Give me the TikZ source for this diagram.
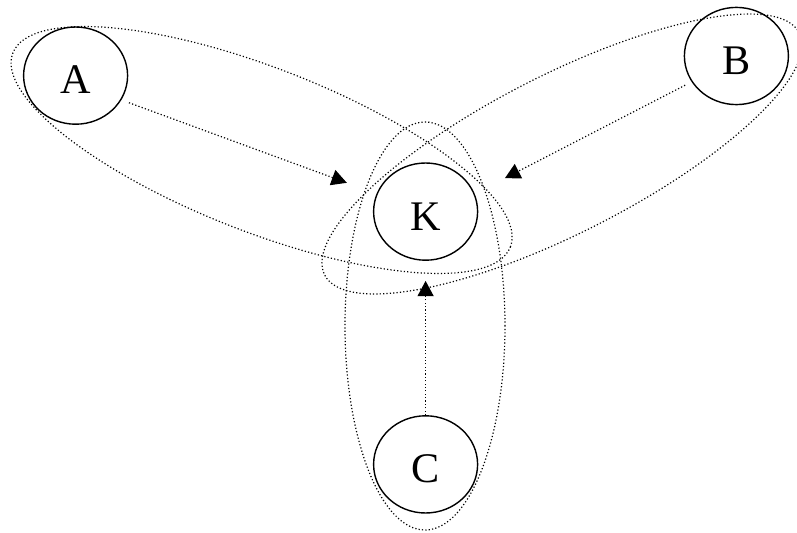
\documentclass[tikz,border=0pt]{standalone}
\usepackage{fontspec}
\setmainfont{Liberation Serif}
\usetikzlibrary{arrows.meta,shapes.geometric}

\begin{document}
\begin{tikzpicture}[
	vertex/.style={ellipse, draw, line width=1pt, minimum width=2.6cm, minimum height=2.43cm, inner sep=0pt, text height=0.92cm, text depth=0pt, font=\fontsize{30}{36}\selectfont},
	group/.style={line width=0.85pt, dash pattern=on 0.85pt off 1.55pt},
	link/.style={line width=0.85pt, dash pattern=on 0.85pt off 1.55pt, -{Triangle[length=0.38cm, width=0.4cm]}}]

	\useasboundingbox (0, 0) rectangle (19.925, 13.3);

	\node (A) [vertex] at (1.89, 11.41) {A};
	\node (B) [vertex] at (18.41, 11.9) {B};
	\node (K) [vertex] at (10.64, 8.01) {K};
	\node (C) [vertex] at (10.64, 1.69) {C};

	% groups
	\draw[group, rotate around={-21.3:(6.54, 9.55)}] (6.54, 9.55) ellipse (6.675 and 2.05);
	\draw[group, rotate around={27:(14.05, 9.45)}] (14.05, 9.45) ellipse (6.66 and 1.975);
	\draw[group] (10.625, 5.15) ellipse (2 and 5.1);

	\path[link]
	(A.-28) edge[shorten <=0.2cm, shorten >=0.79cm] (K.160)
	(B.210) edge[shorten <=0.18cm, shorten >=0.85cm] (K.20)
	(C) edge[shorten >=0.5cm] (K);

\end{tikzpicture}
\end{document}
